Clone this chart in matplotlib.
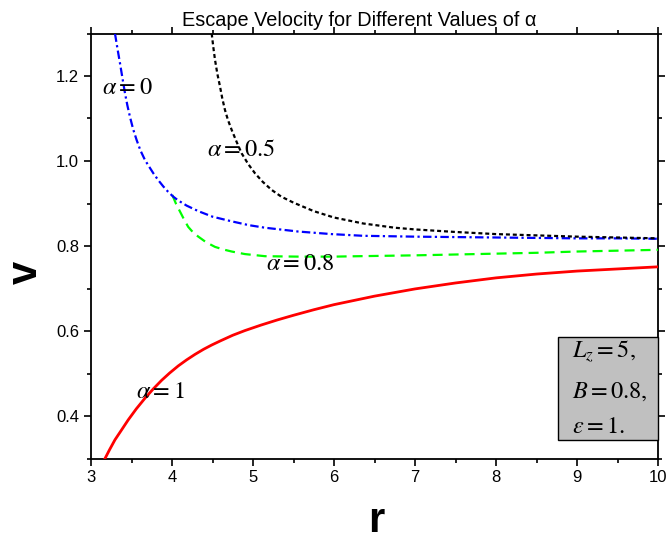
import matplotlib
matplotlib.use("Agg")
import matplotlib.pyplot as plt
from matplotlib.patches import Rectangle

plt.rcParams['mathtext.fontset'] = 'stix'
plt.rcParams['font.family'] = ['Liberation Sans', 'DejaVu Sans']

# alpha = 1 (red, solid)
r_a1 = [3.173, 3.23, 3.296, 3.38, 3.46, 3.56, 3.667, 3.77, 3.872, 3.97, 4.078, 4.18, 4.284, 4.39, 4.49, 4.6, 4.75, 4.9, 5.1, 5.3, 5.5, 5.75, 6.0, 6.5, 7.0, 7.5, 8.0, 8.5, 9.0, 9.5, 10.0]
v_a1 = [0.300, 0.321, 0.344, 0.368, 0.391, 0.417, 0.442, 0.464, 0.484, 0.501, 0.518, 0.532, 0.545, 0.557, 0.567, 0.577, 0.590, 0.601, 0.614, 0.626, 0.637, 0.650, 0.662, 0.682, 0.699, 0.713, 0.725, 0.734, 0.741, 0.746, 0.751]

# alpha = 0.8 (green, dashed)
r_a08 = [4.004, 4.05, 4.099, 4.15, 4.2, 4.26, 4.325, 4.42, 4.53, 4.63, 4.737, 4.9, 5.148, 5.56, 6.0, 6.3, 7.0, 7.5, 8.0, 8.5, 9.0, 9.5, 10.0]
v_a08 = [0.920, 0.899, 0.881, 0.862, 0.845, 0.832, 0.822, 0.809, 0.798, 0.792, 0.787, 0.781, 0.776, 0.775, 0.775, 0.776, 0.778, 0.780, 0.782, 0.784, 0.787, 0.789, 0.791]

# alpha = 0 (blue, dash-dot)
r_a0 = [3.296, 3.327, 3.358, 3.39, 3.42, 3.45, 3.481, 3.52, 3.564, 3.61, 3.667, 3.72, 3.77, 3.83, 3.893, 3.95, 4.016, 4.078, 4.181, 4.325, 4.5, 4.737, 4.95, 5.148, 5.56, 5.97, 6.36, 7.0, 7.5, 8.0, 8.5, 9.0, 9.5, 10.0]
v_a0 = [1.300, 1.264, 1.230, 1.193, 1.159, 1.130, 1.104, 1.075, 1.049, 1.025, 1.002, 0.986, 0.971, 0.955, 0.940, 0.928, 0.916, 0.907, 0.895, 0.882, 0.869, 0.858, 0.849, 0.843, 0.834, 0.828, 0.824, 0.822, 0.821, 0.820, 0.819, 0.818, 0.818, 0.817]

# alpha = 0.5 (black, dotted)
r_a05 = [4.49, 4.51, 4.531, 4.56, 4.593, 4.62, 4.654, 4.69, 4.737, 4.8, 4.86, 4.94, 5.025, 5.12, 5.23, 5.35, 5.5, 5.75, 6.0, 6.36, 6.75, 7.0, 7.5, 8.0, 8.5, 9.0, 9.5, 10.0]
v_a05 = [1.300, 1.268, 1.238, 1.205, 1.175, 1.148, 1.120, 1.097, 1.073, 1.044, 1.018, 0.993, 0.971, 0.951, 0.932, 0.916, 0.902, 0.882, 0.867, 0.853, 0.843, 0.839, 0.833, 0.828, 0.825, 0.822, 0.820, 0.818]

x_ticks = [3, 4, 5, 6, 7, 8, 9, 10]
y_ticks = [0.4, 0.6, 0.8, 1.0, 1.2]
y_tick_labels = ['0.4', '0.6', '0.8', '1.0', '1.2']

fig = plt.figure(figsize=(6.66, 5.42), dpi=100)
ax = fig.add_axes([91/666, 1 - 458.5/542, (658-91)/666, (458.5-33.5)/542])

ax.plot(r_a1, v_a1, color='#ff0000', lw=2.0, ls='-', zorder=3)
ax.plot(r_a08, v_a08, color='#00ff00', lw=1.6, ls=(0, (4.5, 2.7)), zorder=3)
ax.plot(r_a0, v_a0, color='#0000ff', lw=1.6, ls=(0, (3.8, 1.5, 1.0, 1.5)), zorder=3)
ax.plot(r_a05, v_a05, color='black', lw=1.6, ls=(0, (1.8, 1.3)), zorder=3)

ax.set_xlim(3, 10)
ax.set_ylim(0.3, 1.3)
ax.set_xticks(x_ticks)
ax.set_xticks([3.5, 4.5, 5.5, 6.5, 7.5, 8.5, 9.5], minor=True)
ax.set_yticks(y_ticks)
ax.set_yticklabels(y_tick_labels)
ax.set_yticks([0.3, 0.5, 0.7, 0.9, 1.1, 1.3], minor=True)
ax.tick_params(which='both', direction='out', top=True, right=True,
               labeltop=False, labelright=False, labelsize=12, width=1.2)
ax.tick_params(which='major', length=5)
ax.tick_params(which='minor', length=3)
for s in ax.spines.values():
    s.set_linewidth(1.3)

def px(x, y):
    return (x/666, 1 - y/542)

fig.text(*px(359.5, 20), 'Escape Velocity for Different Values of α', fontsize=14.3,
         ha='center', va='center')
fig.text(*px(376, 521), 'r', fontsize=30, fontweight='bold', ha='center', va='center')
fig.text(*px(26, 272), 'v', fontsize=30, fontweight='bold', ha='center', va='center', rotation=90)

fs = 17.5
fig.text(*px(102, 88), r'$\alpha = 0$', fontsize=fs, ha='left', va='center')
fig.text(*px(207, 150), r'$\alpha = 0.5$', fontsize=fs, ha='left', va='center')
fig.text(*px(266, 264), r'$\alpha = 0.8$', fontsize=fs, ha='left', va='center')
fig.text(*px(136, 392), r'$\alpha = 1$', fontsize=fs, ha='left', va='center')

box = Rectangle(px(558, 440), 100/666, 103/542, transform=fig.transFigure,
                facecolor='#c0c0c0', edgecolor='black', lw=1.0, zorder=5)
fig.patches.append(box)
fig.text(*px(572, 352), r'$L_z = 5,$', fontsize=fs, ha='left', va='center', zorder=6)
fig.text(*px(572, 392), r'$B = 0.8,$', fontsize=fs, ha='left', va='center', zorder=6)
fig.text(*px(572, 427), r'$\varepsilon = 1.$', fontsize=fs, ha='left', va='center', zorder=6)

fig.savefig('out.png', dpi=100)
